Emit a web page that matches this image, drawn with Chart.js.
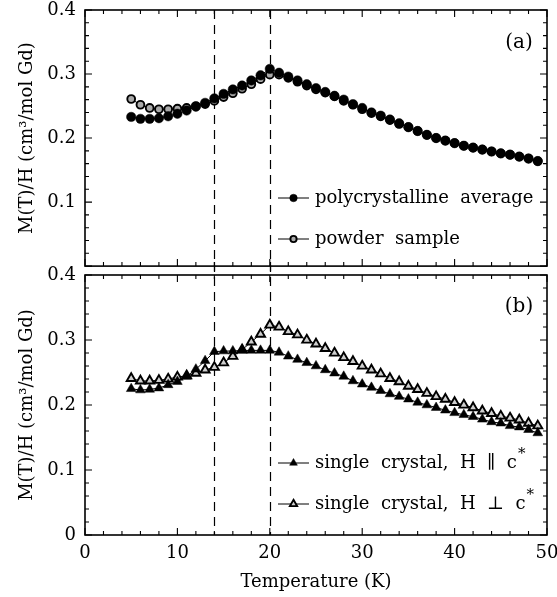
<!DOCTYPE html>
<html>
<head>
<meta charset="utf-8">
<script src="https://cdn.jsdelivr.net/npm/chart.js@4.4.0/dist/chart.umd.min.js"></script>
<style>
body { margin: 0; background: #fff; }
#wrap { position: relative; width: 557px; height: 597px; }
canvas { position: absolute; left: 0; }
#topo { top: 0; }
#baixo { top: 262px; }
</style>
</head>
<body>
<div id="wrap">
  <canvas id="baixo" width="557" height="335"></canvas>
  <canvas id="topo" width="557" height="272"></canvas>
</div>
<script>
// temperaturas (K) de cada ponto medido
const temperaturas = [5, 6, 7, 8, 9, 10, 11, 12, 13, 14, 15, 16, 17, 18, 19, 20, 21, 22, 23, 24, 25, 26, 27,
  28, 29, 30, 31, 32, 33, 34, 35, 36, 37, 38, 39, 40, 41, 42, 43, 44, 45, 46, 47, 48, 49];

// painel (a)
const mediaPolicristalina = [0.233, 0.230, 0.230, 0.231, 0.234, 0.238, 0.243, 0.249, 0.255, 0.262, 0.269, 0.276,
  0.282, 0.290, 0.298, 0.308, 0.302, 0.296, 0.290, 0.284, 0.278, 0.272, 0.266, 0.260, 0.253, 0.247, 0.240,
  0.235, 0.229, 0.223, 0.217, 0.211, 0.205, 0.200, 0.196, 0.192, 0.188, 0.185, 0.182, 0.179, 0.176, 0.174,
  0.171, 0.168, 0.164];
const amostraPo = [0.261, 0.252, 0.247, 0.245, 0.245, 0.246, 0.247, 0.250, 0.253, 0.258, 0.264, 0.270, 0.277,
  0.284, 0.292, 0.299, 0.299, 0.294, 0.288, 0.282, 0.276, 0.271, 0.265, 0.258, 0.252, 0.245, 0.239, 0.234,
  0.228, 0.222, 0.217, 0.211, 0.205, 0.200, 0.196, 0.192, 0.188, 0.185, 0.182, 0.179, 0.176, 0.174, 0.171,
  0.168, 0.164];

// painel (b)
const cristalParalelo = [0.225, 0.223, 0.224, 0.226, 0.231, 0.236, 0.244, 0.255, 0.268, 0.282, 0.283, 0.283,
  0.284, 0.284, 0.284, 0.284, 0.281, 0.275, 0.270, 0.265, 0.260, 0.254, 0.249, 0.244, 0.237, 0.232, 0.227,
  0.222, 0.217, 0.213, 0.209, 0.204, 0.200, 0.196, 0.192, 0.188, 0.185, 0.182, 0.178, 0.174, 0.172, 0.168,
  0.166, 0.162, 0.157];
const cristalPerpendicular = [0.241, 0.237, 0.237, 0.238, 0.240, 0.243, 0.245, 0.249, 0.254, 0.258, 0.265,
  0.275, 0.285, 0.297, 0.309, 0.323, 0.320, 0.313, 0.308, 0.300, 0.294, 0.287, 0.280, 0.273, 0.267, 0.260,
  0.254, 0.248, 0.241, 0.236, 0.229, 0.224, 0.218, 0.213, 0.209, 0.204, 0.200, 0.196, 0.191, 0.187, 0.183,
  0.180, 0.177, 0.172, 0.168];

const temperaturasTracejadas = [14, 20];

const fonte = "'DejaVu Serif', 'Liberation Serif', serif";
const tituloY = 'M(T)/H (cm³/mol Gd)';

function pontos(valores) {
  return temperaturas.map((t, i) => ({ x: t, y: valores[i] }));
}

// moldura + ticks para dentro nos quatro lados
const molduraTicks = {
  id: 'molduraTicks',
  afterDatasetsDraw(chart) {
    const { ctx, chartArea: a, scales: { x, y } } = chart;
    ctx.save();
    ctx.strokeStyle = '#000';
    ctx.lineWidth = 1.1;
    ctx.beginPath();
    for (let t = 0; t <= 50; t += 2) {
      const px = x.getPixelForValue(t);
      const len = t % 10 === 0 ? 7 : 4;
      ctx.moveTo(px, a.bottom); ctx.lineTo(px, a.bottom - len);
      ctx.moveTo(px, a.top); ctx.lineTo(px, a.top + len);
    }
    for (let i = 0; i <= 20; i++) {
      const py = y.getPixelForValue(i * 0.02);
      const len = i % 5 === 0 ? 7 : 4;
      ctx.moveTo(a.left, py); ctx.lineTo(a.left + len, py);
      ctx.moveTo(a.right, py); ctx.lineTo(a.right - len, py);
    }
    ctx.stroke();
    ctx.lineWidth = 1.6;
    ctx.strokeRect(a.left, a.top, a.right - a.left, a.bottom - a.top);
    ctx.restore();
  }
};

// linhas verticais tracejadas em 14 K e 20 K
const tracejadas = {
  id: 'tracejadas',
  beforeDatasetsDraw(chart) {
    const { ctx, chartArea: a, scales: { x } } = chart;
    const ehTopo = chart.canvas.id === 'topo';
    const y1 = ehTopo ? a.top : 0;
    const y2 = ehTopo ? chart.height : a.bottom;
    ctx.save();
    ctx.strokeStyle = '#000';
    ctx.lineWidth = 1.2;
    ctx.setLineDash([9, 6]);
    temperaturasTracejadas.forEach(t => {
      const px = Math.round(x.getPixelForValue(t)) + 0.5;
      ctx.beginPath();
      ctx.moveTo(px, y1);
      ctx.lineTo(px, y2);
      ctx.stroke();
    });
    ctx.restore();
  }
};

// legenda dentro do painel e rótulo (a)/(b)
const legendaInterna = {
  id: 'legendaInterna',
  afterDraw(chart, args, opts) {
    const ctx = chart.ctx;
    ctx.save();
    ctx.textBaseline = 'middle';
    ctx.fillStyle = '#000';
    ctx.font = '20px ' + fonte;
    ctx.textAlign = 'center';
    ctx.fillText(opts.rotulo, 519, opts.rotuloY);
    ctx.textAlign = 'left';
    opts.itens.forEach(item => {
      const ds = chart.data.datasets[item.dataset];
      ctx.strokeStyle = '#000';
      ctx.lineWidth = 1;
      ctx.beginPath();
      ctx.moveTo(278, item.y);
      ctx.lineTo(309, item.y);
      ctx.stroke();
      ctx.fillStyle = ds.pointBackgroundColor;
      ctx.strokeStyle = ds.pointBorderColor;
      ctx.lineWidth = ds.pointBorderWidth;
      Chart.helpers.drawPoint(ctx, {
        pointStyle: ds.pointStyle, radius: ds.pointRadius * 0.8,
        borderWidth: ds.pointBorderWidth, rotation: 0
      }, 293.5, item.y);
      ctx.fillStyle = '#000';
      ctx.font = '18px ' + fonte;
      ctx.fillText(item.texto, 315, item.y);
      if (item.sup) {
        const w = ctx.measureText(item.texto).width;
        ctx.font = '15px ' + fonte;
        ctx.fillText(item.sup, 315 + w + 1, item.y - 9);
      }
    });
    ctx.restore();
  }
};

function escalaY(mostrarZero) {
  return {
    min: 0, max: 0.4,
    afterFit: s => { s.width = 85; s.paddingTop = 0; s.paddingBottom = 0; },
    grid: { display: false, drawTicks: false },
    border: { display: false },
    ticks: {
      stepSize: 0.1, padding: 9, color: '#000',
      font: { family: fonte, size: 18 },
      callback: v => (Math.abs(v) < 1e-9 ? (mostrarZero ? '0' : '') : v.toFixed(1))
    },
    title: {
      display: true, text: tituloY, color: '#000',
      font: { family: fonte, size: 18 },
      padding: { top: 17, bottom: 0 }
    }
  };
}

function conjunto(rotulo, valores, estilo, fundo, raio, borda) {
  return {
    label: rotulo,
    data: pontos(valores),
    borderColor: '#000',
    borderWidth: 1,
    pointStyle: estilo,
    pointRadius: raio,
    pointBackgroundColor: fundo,
    pointBorderColor: '#000',
    pointBorderWidth: borda
  };
}

Chart.defaults.animation = false;

new Chart(document.getElementById('topo'), {
  type: 'scatter',
  data: {
    datasets: [
      conjunto('polycrystalline average', mediaPolicristalina, 'circle', '#000', 4.7, 0.5),
      conjunto('powder sample', amostraPo, 'circle', '#a9a9a9', 3.9, 1.9)
    ]
  },
  options: {
    responsive: false,
    showLine: true,
    layout: { padding: { top: 10, right: 10, bottom: 4, left: 0 } },
    scales: {
      x: { type: 'linear', min: 0, max: 50, display: false },
      y: escalaY(false)
    },
    plugins: {
      legend: { display: false },
      tooltip: { enabled: false },
      legendaInterna: {
        rotulo: '(a)', rotuloY: 43,
        itens: [
          { dataset: 0, y: 198, texto: 'polycrystalline  average' },
          { dataset: 1, y: 239, texto: 'powder  sample' }
        ]
      }
    }
  },
  plugins: [tracejadas, molduraTicks, legendaInterna]
});

new Chart(document.getElementById('baixo'), {
  type: 'scatter',
  data: {
    datasets: [
      conjunto('single crystal, H ∥ c*', cristalParalelo, 'triangle', '#000', 5.6, 0.5),
      conjunto('single crystal, H ⊥ c*', cristalPerpendicular, 'triangle', '#cfcfcf', 5.2, 1.9)
    ]
  },
  options: {
    responsive: false,
    showLine: true,
    layout: { padding: { top: 13, right: 10, bottom: 0, left: 0 } },
    scales: {
      x: {
        type: 'linear', min: 0, max: 50,
        afterFit: s => { s.height = 62; s.paddingLeft = 0; s.paddingRight = 0; },
        grid: { display: false, drawTicks: false },
        border: { display: false },
        ticks: {
          stepSize: 10, padding: 8, color: '#000', maxRotation: 0,
          font: { family: fonte, size: 18 }
        },
        title: {
          display: true, text: 'Temperature (K)', color: '#000',
          font: { family: fonte, size: 18 },
          padding: { top: 0, bottom: 4 }
        }
      },
      y: escalaY(true)
    },
    plugins: {
      legend: { display: false },
      tooltip: { enabled: false },
      legendaInterna: {
        rotulo: '(b)', rotuloY: 45,
        itens: [
          { dataset: 0, y: 201, texto: 'single  crystal,  H  ∥  c', sup: '*' },
          { dataset: 1, y: 242, texto: 'single  crystal,  H  ⊥  c', sup: '*' }
        ]
      }
    }
  },
  plugins: [tracejadas, molduraTicks, legendaInterna]
});
</script>
</body>
</html>
